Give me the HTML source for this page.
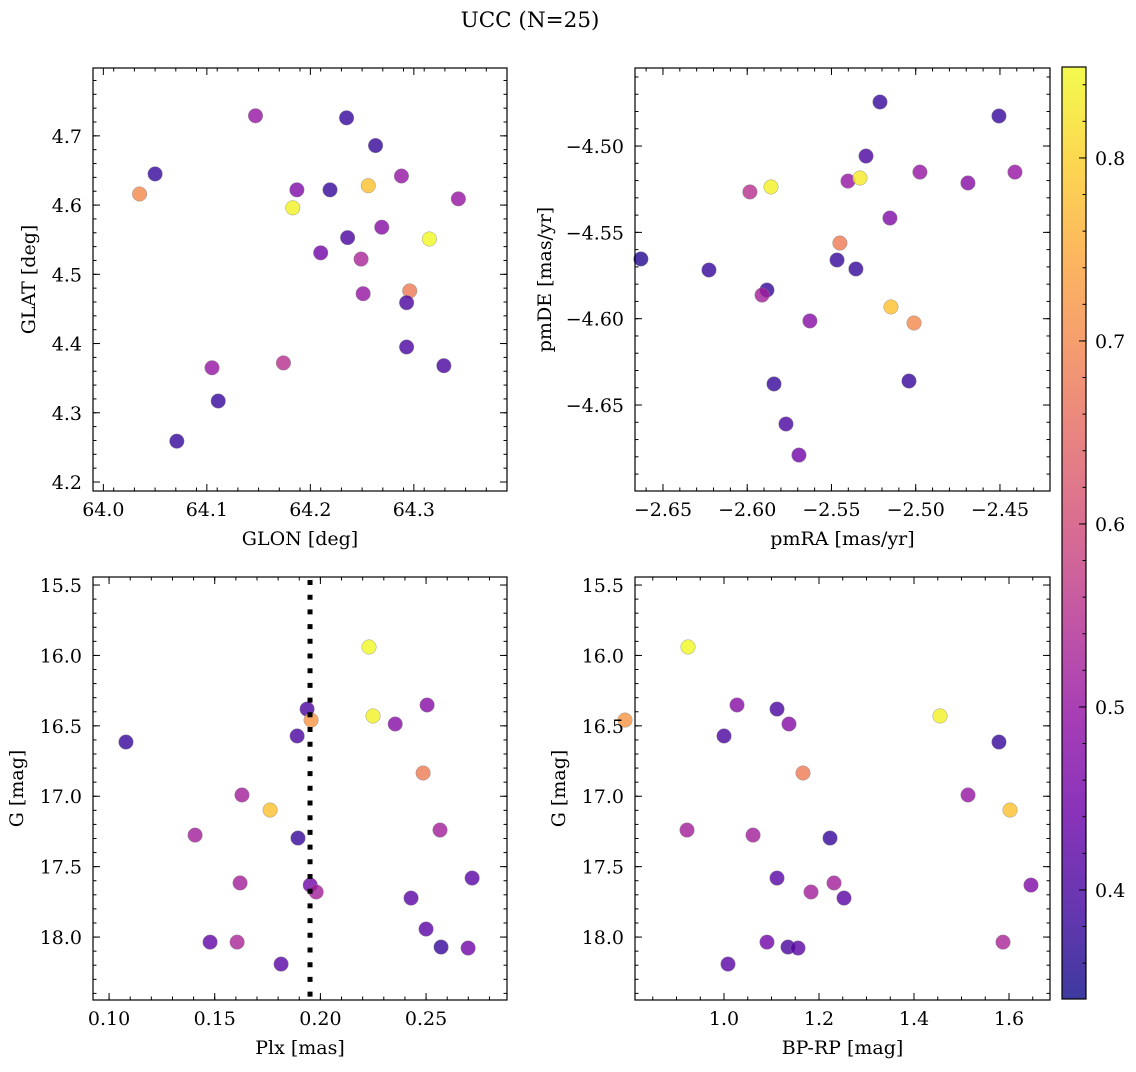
<!DOCTYPE html>
<html><head><meta charset="utf-8">
<style>
body{margin:0;background:#fff;}
svg text{font-family:"DejaVu Serif","Liberation Serif",serif;fill:#000;}
</style></head>
<body>
<svg id="fig" width="1136" height="1067" xmlns="http://www.w3.org/2000/svg">
<text x="530" y="27" font-size="21.5" text-anchor="middle">UCC (N=25)</text>
</svg>
<script>
// Panel 1: GLON vs GLAT
const glonA=[64.147,64.235,64.263,64.050,64.035,64.187,64.219,64.256,64.288,64.183,64.343,64.236,64.269,64.315,64.210,64.249,64.296,64.251,64.293,64.105,64.174,64.293,64.329,64.111,64.071];
const glatA=[4.729,4.726,4.686,4.645,4.616,4.622,4.622,4.628,4.642,4.596,4.609,4.553,4.568,4.551,4.531,4.522,4.476,4.472,4.459,4.365,4.372,4.395,4.368,4.317,4.259];
const colA=[0.50,0.38,0.38,0.38,0.70,0.47,0.38,0.78,0.50,0.84,0.50,0.40,0.48,0.85,0.45,0.53,0.68,0.50,0.40,0.50,0.55,0.40,0.40,0.38,0.38];
// Panel 2: pmRA vs pmDE
const pmraB=[-2.5212,-2.4506,-2.5295,-2.5984,-2.5859,-2.5402,-2.5331,-2.4975,-2.4690,-2.4411,-2.5153,-2.5450,-2.6631,-2.6227,-2.5467,-2.5355,-2.5883,-2.5912,-2.5147,-2.5010,-2.5628,-2.5841,-2.5040,-2.5770,-2.5693];
const pmdeB=[-4.4745,-4.4826,-4.5058,-4.5266,-4.5237,-4.5203,-4.5185,-4.5151,-4.5214,-4.5151,-4.5417,-4.5562,-4.5654,-4.5718,-4.5660,-4.5712,-4.5834,-4.5863,-4.5932,-4.6025,-4.6013,-4.6378,-4.6361,-4.6610,-4.6790];
const colB=[0.38,0.38,0.40,0.55,0.84,0.50,0.83,0.50,0.48,0.50,0.47,0.68,0.36,0.38,0.38,0.38,0.38,0.52,0.78,0.70,0.48,0.38,0.38,0.40,0.45];
// Panel 3: Plx vs G
const plxC=[0.2230,0.1080,0.1937,0.1956,0.2249,0.2505,0.2354,0.1890,0.2486,0.1629,0.1762,0.1407,0.1894,0.2566,0.1620,0.1952,0.1980,0.2718,0.2429,0.1478,0.1606,0.2500,0.2571,0.2699,0.1814];
const gC=[15.940,16.615,16.381,16.459,16.430,16.352,16.487,16.572,16.835,16.991,17.098,17.276,17.297,17.240,17.616,17.631,17.680,17.581,17.723,18.036,18.036,17.943,18.071,18.078,18.192];
const colC=[0.85,0.38,0.40,0.72,0.84,0.48,0.48,0.40,0.68,0.52,0.78,0.52,0.38,0.52,0.52,0.45,0.52,0.42,0.42,0.43,0.53,0.42,0.38,0.45,0.42];
const plxMedian=0.1951;
// Panel 4: BP-RP vs G
const bprpD=[0.9242,0.7916,1.0274,1.0,1.1116,1.1368,1.4547,1.5789,1.1663,1.5137,1.6021,0.9221,1.0611,1.2232,1.1116,1.2316,1.1832,1.2526,1.6463,1.5874,1.0905,1.1347,1.1558,1.0084];
const gD=[15.940,16.459,16.352,16.572,16.381,16.487,16.430,16.615,16.835,16.991,17.098,17.240,17.276,17.297,17.581,17.616,17.680,17.723,17.631,18.036,18.036,18.071,18.078,18.192];
const colD=[0.85,0.72,0.48,0.40,0.40,0.48,0.84,0.38,0.68,0.50,0.78,0.52,0.52,0.38,0.42,0.52,0.52,0.42,0.47,0.53,0.45,0.40,0.42,0.42];
const cbTicks=["0.4","0.5","0.6","0.7","0.8"];

const NS="http://www.w3.org/2000/svg";
const svg=document.getElementById('fig');
const VMIN=0.3404,VMAX=0.8497;
const stops=[[13,8,135],[65,4,157],[106,0,168],[143,13,164],[177,42,144],[204,71,120],[225,100,98],[242,132,75],[252,166,54],[252,206,37],[240,249,33]];
function plasma(t){t=Math.max(0,Math.min(1,t));const s=t*10,i=Math.min(9,Math.floor(s)),f=s-i;const a=stops[i],b=stops[i+1];return `rgb(${a.map((v,k)=>Math.round(v+(b[k]-v)*f)).join(',')})`;}
function el(tag,attrs,parent){const e=document.createElementNS(NS,tag);for(const k in attrs)e.setAttribute(k,attrs[k]);(parent||svg).appendChild(e);return e;}
function fmt(v,d){return (v<0?'\u2212':'')+Math.abs(v).toFixed(d);}
const FS=19;

function panel(name,box,xd,yd,xMaj,xMin,yMaj,yMin,xdec,ydec,xl,yl,ylx,xs,ys,cs){
  const [L,T,R,B]=box;
  const sx=v=>L+(v-xd[0])/(xd[1]-xd[0])*(R-L);
  const sy=v=>B-(v-yd[0])/(yd[1]-yd[0])*(B-T);
  const g=el('g',{});
  
  
  for(let i=0;i<xs.length;i++){
    const c=el('circle',{cx:sx(xs[i]),cy:sy(ys[i]),r:7.3,fill:plasma((cs[i]-VMIN)/(VMAX-VMIN)),'fill-opacity':0.8,stroke:'#888','stroke-width':0.4},g);
    
    
  }
  const ax=el('g',{},g);
  
  
  el('rect',{x:L,y:T,width:R-L,height:B-T,fill:'none',stroke:'#000','stroke-width':1.2},ax);
  const ticks=(arr,len,horiz)=>{for(const v of arr){if(horiz){const x=sx(v);if(x<L-0.5||x>R+0.5)continue;el('line',{x1:x,x2:x,y1:B,y2:B-len,stroke:'#000','stroke-width':1},ax);el('line',{x1:x,x2:x,y1:T,y2:T+len,stroke:'#000','stroke-width':1},ax);}else{const y=sy(v);if(y<T-0.5||y>B+0.5)continue;el('line',{x1:L,x2:L+len,y1:y,y2:y,stroke:'#000','stroke-width':1},ax);el('line',{x1:R,x2:R-len,y1:y,y2:y,stroke:'#000','stroke-width':1},ax);}}};
  ticks(xMin,3.5,true);ticks(xMaj,7,true);ticks(yMin,3.5,false);ticks(yMaj,7,false);
  for(const v of xMaj){const t=el('text',{x:sx(v),y:B+25,'font-size':FS,'text-anchor':'middle'},ax);t.textContent=fmt(v,xdec);}
  for(const v of yMaj){const t=el('text',{x:L-11,y:sy(v)+7,'font-size':FS,'text-anchor':'end'},ax);t.textContent=fmt(v,ydec);}
  const xt=el('text',{x:(L+R)/2,y:B+54,'font-size':FS,'text-anchor':'middle'},ax);xt.textContent=xl;
  
  const yc=(T+B)/2;
  const yt=el('text',{x:ylx,y:yc,'font-size':FS,'text-anchor':'middle',transform:`rotate(-90 ${ylx} ${yc})`},ax);yt.textContent=yl;
  
  return {sx,sy,g};
}
const rng=(a,b,s)=>{const o=[];for(let v=a;v<=b+s*1e-6;v+=s)o.push(+v.toFixed(6));return o;};

panel('glon-glat-panel',[93,68,507,491],[63.990,64.390],[4.187,4.798],rng(64.0,64.3,0.1),rng(63.99,64.39,0.02),rng(4.2,4.7,0.1),rng(4.2,4.78,0.02),1,1,'GLON [deg]','GLAT [deg]',35,glonA,glatA,colA);
panel('pm-panel',[635,68,1050,491],[-2.6666,-2.4203],[-4.6998,-4.4548],rng(-2.65,-2.45,0.05),rng(-2.66,-2.42,0.01),rng(-4.65,-4.50,0.05),rng(-4.69,-4.46,0.01),2,2,'pmRA [mas/yr]','pmDE [mas/yr]',551,pmraB,pmdeB,colB);
const p3=panel('plx-g-panel',[93,577,507,1000],[0.0924,0.2883],[18.447,15.443],rng(0.10,0.25,0.05),rng(0.10,0.28,0.01),rng(15.5,18.0,0.5),rng(15.5,18.4,0.1),2,1,'Plx [mas]','G [mag]',23,plxC,gC,colC);
const ml=el('line',{x1:p3.sx(plxMedian),x2:p3.sx(plxMedian),y1:580,y2:999,stroke:'#000','stroke-width':5,'stroke-dasharray':'5 9.7'});


panel('cmd-panel',[635,577,1050,1000],[0.8126,1.6863],[18.447,15.443],rng(1.0,1.6,0.2),rng(0.85,1.65,0.05),rng(15.5,18.0,0.5),rng(15.5,18.4,0.1),1,1,'BP-RP [mag]','G [mag]',565,bprpD,gD,colD);

// colorbar
const cbL=1062,cbR=1086,cbT=67,cbB=999;
const defs=el('defs',{});
const grad=el('linearGradient',{id:'cbg',x1:0,y1:1,x2:0,y2:0},defs);
for(let i=0;i<=20;i++)el('stop',{offset:i/20,'stop-color':plasma(i/20),'stop-opacity':0.8},grad);
const cb=el('g',{});


el('rect',{x:cbL,y:cbT,width:cbR-cbL,height:cbB-cbT,fill:'url(#cbg)',stroke:'#000','stroke-width':1.2},cb);
const cy=v=>cbB-(v-VMIN)/(VMAX-VMIN)*(cbB-cbT);
for(let v=0.36;v<=0.845;v+=0.02){el('line',{x1:cbR,x2:cbR-3.5,y1:cy(v),y2:cy(v),stroke:'#000'},cb);}
for(const s of cbTicks){const v=parseFloat(s);el('line',{x1:cbR,x2:cbR-7,y1:cy(v),y2:cy(v),stroke:'#000'},cb);const t=el('text',{x:cbR+9,y:cy(v)+7,'font-size':FS},cb);t.textContent=s;}
</script>
</body></html>
